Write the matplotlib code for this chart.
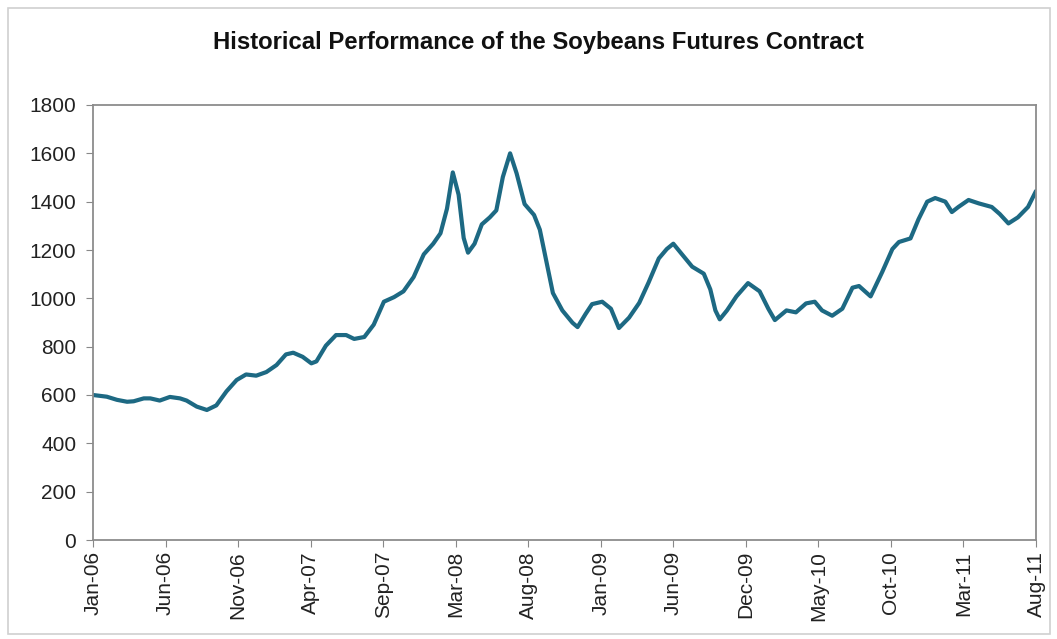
import matplotlib
matplotlib.use("Agg")
import matplotlib.pyplot as plt
from matplotlib.patches import Rectangle

title = "Historical Performance of the Soybeans Futures Contract"
tick_labels = ["Jan-06", "Jun-06", "Nov-06", "Apr-07", "Sep-07", "Mar-08", "Aug-08",
               "Jan-09", "Jun-09", "Dec-09", "May-10", "Oct-10", "Mar-11", "Aug-11"]

# position along the category axis, in units of label intervals
x_pos = [0.00, 0.19, 0.33, 0.47, 0.56, 0.70, 0.79, 0.92, 1.06, 1.20, 1.29, 1.43, 1.57,
         1.70, 1.84, 1.98, 2.11, 2.25, 2.39, 2.53, 2.66, 2.76, 2.89, 3.01, 3.08, 3.21,
         3.35, 3.49, 3.60, 3.74, 3.87, 4.01, 4.15, 4.28, 4.42, 4.56, 4.69, 4.79, 4.88,
         4.96, 5.04, 5.11, 5.17, 5.26, 5.36, 5.47, 5.56, 5.65, 5.75, 5.84, 5.95, 6.08,
         6.16, 6.25, 6.34, 6.47, 6.61, 6.68, 6.79, 6.88, 7.02, 7.14, 7.25, 7.39, 7.53,
         7.66, 7.80, 7.91, 8.00, 8.12, 8.26, 8.42, 8.51, 8.58, 8.64, 8.74, 8.87, 9.03,
         9.19, 9.31, 9.40, 9.56, 9.69, 9.83, 9.95, 10.05, 10.19, 10.33, 10.47, 10.56,
         10.72, 10.88, 11.02, 11.11, 11.27, 11.38, 11.50, 11.61, 11.75, 11.84, 11.93,
         12.07, 12.21, 12.39, 12.50, 12.62, 12.75, 12.89, 13.00]
price = [600, 593, 580, 572, 574, 586, 586, 577, 592, 586, 577, 552, 538,
         557, 615, 662, 685, 680, 695, 724, 768, 775, 758, 731, 739, 804,
         848, 848, 832, 840, 891, 986, 1005, 1029, 1088, 1182, 1226, 1269, 1371,
         1521, 1429, 1250, 1189, 1226, 1306, 1335, 1364, 1502, 1600, 1517, 1390, 1345,
         1284, 1153, 1022, 950, 899, 881, 935, 976, 986, 957, 877, 920, 981,
         1066, 1165, 1204, 1226, 1182, 1131, 1102, 1037, 950, 913, 950, 1008, 1063,
         1029, 957, 910, 950, 942, 979, 986, 950, 928, 957, 1044, 1051,
         1008, 1109, 1204, 1233, 1248, 1327, 1400, 1415, 1400, 1357, 1378,
         1407, 1393, 1378, 1349, 1310, 1335, 1378, 1444]

fig = plt.figure(figsize=(10.57, 6.39), dpi=100)
plt.rcParams['font.family'] = ['Liberation Sans', 'DejaVu Sans']

# outer chart-area border
fig.patches.append(Rectangle((8 / 1057, 1 - 634 / 639), (1050 - 8) / 1057, (634 - 8) / 639,
                             transform=fig.transFigure, fill=False,
                             edgecolor="#d0d0d0", linewidth=1.2))

ax = fig.add_axes([93 / 1057, 1 - 540 / 639, (1036 - 93) / 1057, (540 - 105) / 639])
ax.plot(x_pos, price, color="#1D6983", linewidth=3.0, solid_joinstyle="round",
        solid_capstyle="round")

ax.set_xlim(0, len(tick_labels) - 1)
ax.set_ylim(0, 1800)
ax.set_yticks(range(0, 1801, 200))
ax.set_xticks(range(len(tick_labels)))
ax.set_xticklabels(tick_labels, rotation=90, fontsize=15, color="#222222")
ax.tick_params(axis="y", labelsize=15, labelcolor="#222222", length=5,
               color="#888888", direction="out", pad=7)
ax.tick_params(axis="x", length=5, color="#888888", direction="out", pad=3)
for s in ax.spines.values():
    s.set_color("#8c8c8c")
    s.set_linewidth(1.3)

fig.text(538 / 1057, 1 - 43 / 639, title, ha="center", va="center",
         fontsize=17.2, fontweight="bold", color="#111111")

fig.savefig("out.png", dpi=100)
